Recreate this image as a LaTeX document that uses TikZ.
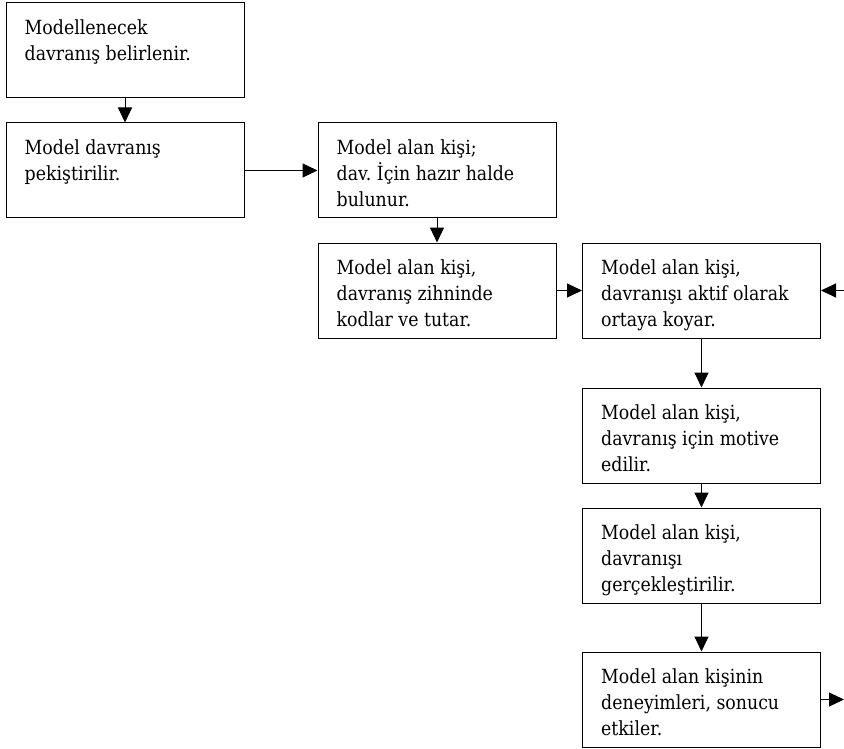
\documentclass[tikz,border=0pt]{standalone}
\usepackage{fontspec}
\setmainfont{DejaVu Serif}[FakeStretch=0.89]
\usetikzlibrary{arrows.meta}
\frenchspacing
\tikzset{
  box/.style={draw=black, line width=1pt, minimum width=238pt, minimum height=95pt, inner sep=0pt, fill=white},
  txt/.style={anchor=north west, inner sep=0pt, align=left, font=\fontsize{19.5}{26}\selectfont},
  arr/.style={draw=black, line width=1pt, -{Triangle[length=15pt,width=14pt]}}
}
\begin{document}
\begin{tikzpicture}[x=1pt,y=-1pt]
\useasboundingbox (0,0) rectangle (844,749);
\node[box] (b1) at (125,50.5) {};
\node[box] (b2) at (125,170.5) {};
\node[box] (b3) at (437,170.5) {};
\node[box] (b4) at (437,290.5) {};
\node[box] (b5) at (701.5,290.5) {};
\node[box] (b6) at (701.5,435.5) {};
\node[box] (b7) at (701.5,555.5) {};
\node[box] (b8) at (701.5,699.5) {};
\node[txt] (t1) at ([xshift=19pt,yshift=-17pt]b1.north west) {Modellenecek\\davranış belirlenir.};
\node[txt] (t2) at ([xshift=19pt,yshift=-17pt]b2.north west) {Model davranış\\pekiştirilir.};
\node[txt] (t3) at ([xshift=19pt,yshift=-17pt]b3.north west) {Model alan kişi;\\dav.\ İçin hazır halde\\bulunur.};
\node[txt] (t4) at ([xshift=19pt,yshift=-17pt]b4.north west) {Model alan kişi,\\davranış zihninde\\kodlar ve tutar.};
\node[txt] (t5) at ([xshift=19pt,yshift=-17pt]b5.north west) {Model alan kişi,\\davranışı aktif olarak\\ortaya koyar.};
\node[txt] (t6) at ([xshift=19pt,yshift=-17pt]b6.north west) {Model alan kişi,\\davranış için motive\\edilir.};
\node[txt] (t7) at ([xshift=19pt,yshift=-17pt]b7.north west) {Model alan kişi,\\davranışı\\gerçekleştirilir.};
\node[txt] (t8) at ([xshift=19pt,yshift=-17pt]b8.north west) {Model alan kişinin\\deneyimleri, sonucu\\etkiler.};
\coordinate (rin) at (844,290.5);
\coordinate (rout) at (844,699.5);
\draw[arr] (b1) -- (b2);
\draw[arr] (b2) -- (b3);
\draw[arr] (b3) -- (b4);
\draw[arr] (b4) -- (b5);
\draw[arr] (rin) -- (b5.east);
\draw[arr] (b5) -- (b6);
\draw[arr] (b6) -- (b7);
\draw[arr] (b7) -- (b8);
\draw[arr] (b8.east) -- (rout);
\end{tikzpicture}
\end{document}
